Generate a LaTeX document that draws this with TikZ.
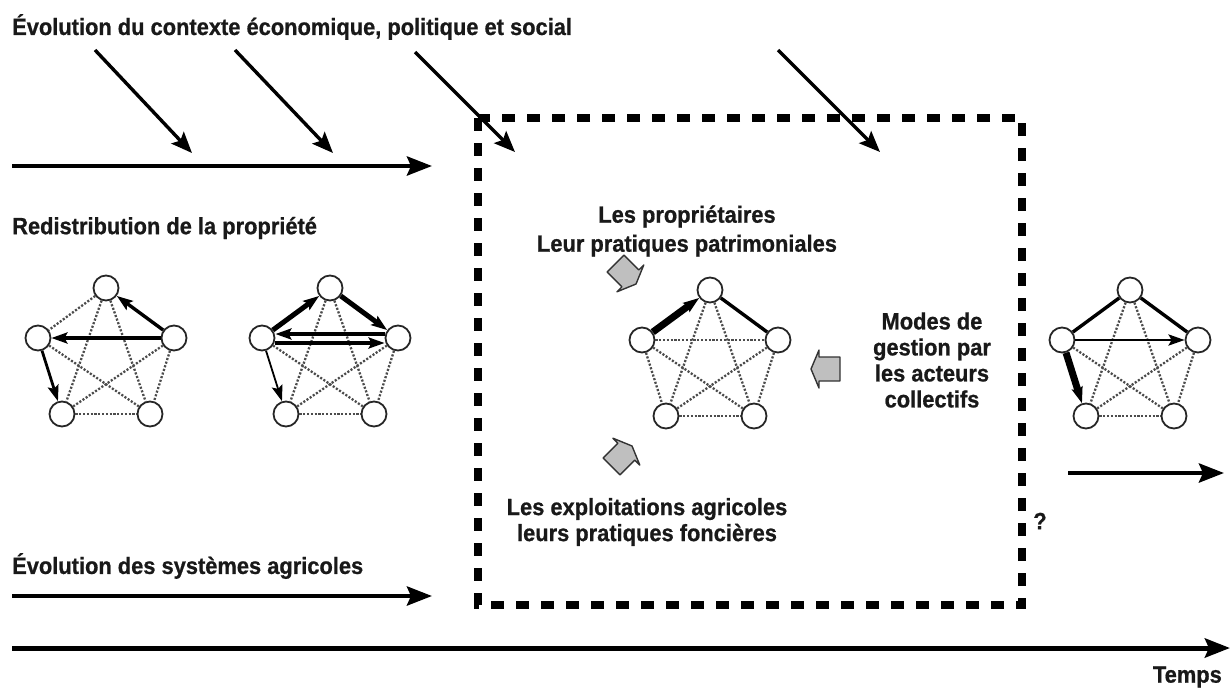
\documentclass[tikz,border=0pt]{standalone}
\usepackage{fontspec}
\setmainfont[FakeStretch=0.93, BoldFeatures={FakeBold=0.8}]{Liberation Sans}
\usetikzlibrary{arrows.meta}
\newcommand\mkpent[3]{%
  \node[vtx] (#1t)  at (#2,#3) {};
  \node[vtx] (#1l)  at (#2-68,#3+50) {};
  \node[vtx] (#1r)  at (#2+68,#3+50) {};
  \node[vtx] (#1bl) at (#2-44,#3+126) {};
  \node[vtx] (#1br) at (#2+44,#3+126) {};
}
\begin{document}
\begin{tikzpicture}[x=1pt,y=-1pt,
  lbl/.style={font=\fontsize{23.5}{26}\selectfont\bfseries, inner sep=0pt, align=center, text=black!90},
  vtx/.style={circle, draw=black!85, line width=1.8pt, fill=white, minimum size=25pt, inner sep=0pt},
  dots/.style={line width=2.3pt, dash pattern=on 2.1pt off 1.7pt, black!70},
  diag/.style={line width=3.4pt, -{Stealth[length=21pt,width=17pt,inset=4pt]}},
  harr/.style={line width=4.4pt, -{Stealth[length=25pt,width=19pt,inset=4pt]}},
  earr/.style={-{Stealth[length=16pt,width=11pt,inset=3pt]}},
  sbox/.style={line width=8pt, dash pattern=on 13pt off 12pt},
  garr/.style={draw=black!80, line width=1.4pt, fill=black!25, line join=round}
]
\useasboundingbox (0,0) rectangle (1232,689);

% titles
\node[lbl, anchor=west] (title) at (12,27) {Évolution du contexte économique, politique et social};
\node[lbl, anchor=west] (redis) at (12,228) {Redistribution de la propriété};
\node[lbl, anchor=west] (evsys) at (12,566) {Évolution des systèmes agricoles};
\node[lbl] (prop) at (687,231) {Les propriétaires\\[3pt]Leur pratiques patrimoniales};
\node[lbl] (modes) at (932,360) {Modes de\\gestion par\\les acteurs\\collectifs};
\node[lbl] (expl) at (647,522) {Les exploitations agricoles\\leurs pratiques foncières};
\node[lbl] (q) at (1040,521) {?};
\node[lbl, anchor=east] (temps) at (1222,677) {Temps};

% context arrows
\coordinate (d1s) at (95,50);   \coordinate (d1e) at (192,153);
\coordinate (d2s) at (235,50);  \coordinate (d2e) at (333,153);
\coordinate (d3s) at (415,52);  \coordinate (d3e) at (515,152);
\coordinate (d4s) at (778,50);  \coordinate (d4e) at (880,152);
\foreach \i in {1,...,4} \draw[diag] (d\i s) -- (d\i e);

% horizontal arrows
\coordinate (h1s) at (12,166);  \coordinate (h1e) at (432,166);
\coordinate (h2s) at (12,596);  \coordinate (h2e) at (432,596);
\coordinate (h3s) at (1068,473); \coordinate (h3e) at (1224,473);
\coordinate (h4s) at (12,648);  \coordinate (h4e) at (1230,648);
\draw[harr] (h1s) -- (h1e);
\draw[harr] (h2s) -- (h2e);
\draw[harr] (h3s) -- (h3e);
\draw[harr, line width=5pt] (h4s) -- (h4e);

% dashed frame
\coordinate (b1) at (478,118); \coordinate (b2) at (1022,605);
\draw[sbox] (b1) rectangle (b2);

% pentagons
\mkpent{A}{106}{288}
\mkpent{B}{330}{288}
\mkpent{C}{710}{290}
\mkpent{D}{1130}{290}

% A
\foreach \a/\b in {t/l,t/bl,t/br,l/br,r/bl,r/br,bl/br} \draw[dots] (A\a) -- (A\b);
\draw[line width=3.4pt, earr] (Ar) -- (At);
\draw[line width=4.4pt, earr] (Ar) -- (Al);
\draw[line width=2.8pt, earr] (Al) -- (Abl);

% B
\foreach \a/\b in {t/bl,t/br,l/br,r/bl,r/br,bl/br} \draw[dots] (B\a) -- (B\b);
\draw[line width=5pt, earr] (Bl) -- (Bt);
\draw[line width=5pt, earr] (Bt) -- (Br);
\draw[line width=4.2pt, earr] ([yshift=4pt]Br.west) -- ([yshift=4pt]Bl.east);
\draw[line width=4.2pt, earr] ([yshift=-5pt]Bl.east) -- ([yshift=-5pt]Br.west);
\draw[line width=1.8pt, earr] (Bl) -- (Bbl);

% C
\foreach \a/\b in {l/r,t/bl,t/br,l/bl,l/br,r/bl,r/br,bl/br} \draw[dots] (C\a) -- (C\b);
\draw[line width=7pt, earr] (Cl) -- (Ct);
\draw[line width=3.4pt] (Ct) -- (Cr);

% D
\foreach \a/\b in {t/bl,t/br,l/br,r/bl,r/br,bl/br} \draw[dots] (D\a) -- (D\b);
\draw[line width=3.4pt] (Dl) -- (Dt);
\draw[line width=3.4pt] (Dt) -- (Dr);
\draw[line width=2.8pt, earr] (Dl) -- (Dr);
\draw[line width=7pt, earr] (Dl) -- (Dbl);

% gray block arrows (tip toward the central graph)
\foreach \px/\py/\rot in {624/272/135, 620/458/-135, 828/369/0} {
  \begin{scope}[shift={(\px,\py)}, rotate=\rot]
    \draw[garr] (12,-12) -- (12,12) -- (-9,12) -- (-9,19) -- (-17,0) -- (-9,-19) -- (-9,-12) -- cycle;
  \end{scope}
}
\end{tikzpicture}
\end{document}
